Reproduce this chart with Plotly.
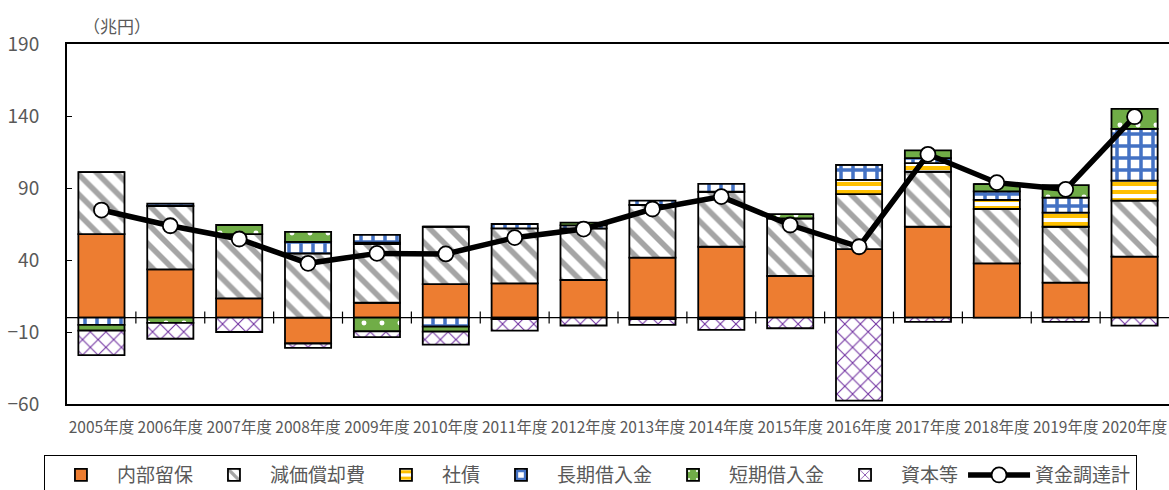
import plotly.graph_objects as go

# 年度ラベル
years = [f"{y}年度" for y in range(2005, 2021)]

# 資金調達の内訳（兆円）
naibu_ryuho = [58, 33.5, 13.4, -18, 10.3, 23.3, 23.8, 26.1, 41.6, 49.2, 28.9, 47.6, 63.1, 37.7, 24.3, 42.3]
genka_shokyaku = [43, 44, 44.6, 44.6, 40.8, 39.8, 38.2, 35.9, 36.6, 38.2, 40, 38.2, 38.2, 37.7, 38.8, 38.9]
shasai = [0, 0, 0, 0, 1, 0, -1, 0, 0, 0, 0, 9.8, 6, 6.3, 9.8, 13.9]
choki_kariire = [-5, 1.7, 0, 8, 5.3, -6.3, 3, 2, 3, 5.4, 0, 10.4, 3.5, 6, 10.4, 35.9]
tanki_kariire = [-4, -3.7, 6.3, 7, -9.5, -3.5, 0, 2, -1, -1, 3, 0, 5.3, 5, 8.7, 13.9]
shihon_to = [-17, -11, -10, -3, -4, -9, -8, -5.5, -4, -7.5, -7.4, -57.7, -3, 0, -3, -5.6]

# 資金調達計
shikin_total = [74.7, 63.8, 54.6, 37.7, 44.6, 44.2, 55.5, 61.5, 75.4, 84, 64.3, 49.2, 113.4, 93.7, 89.1, 139.5]

TEXT = "#595959"
FONT = "Noto Sans CJK JP"
OUTLINE = dict(color="black", width=1.8)

series = [
    ("内部留保", naibu_ryuho, dict(color="#ED7D31", line=OUTLINE)),
    ("減価償却費", genka_shokyaku, dict(color="white", line=OUTLINE,
        pattern=dict(shape="\\", fgcolor="#A5A5A5", bgcolor="white", size=14, solidity=0.4, fillmode="replace"))),
    ("社債", shasai, dict(color="white", line=OUTLINE,
        pattern=dict(shape="-", fgcolor="#FFC000", bgcolor="white", size=8, solidity=0.5, fillmode="replace"))),
    ("長期借入金", choki_kariire, dict(color="white", line=OUTLINE,
        pattern=dict(shape="+", fgcolor="#4472C4", bgcolor="white", size=12, solidity=0.5, fillmode="replace"))),
    ("短期借入金", tanki_kariire, dict(color="#70AD47", line=OUTLINE,
        pattern=dict(shape=".", fgcolor="white", bgcolor="#70AD47", size=18, solidity=0.06, fillmode="replace"))),
    ("資本等", shihon_to, dict(color="white", line=OUTLINE,
        pattern=dict(shape="x", fgcolor="#7030A0", bgcolor="white", size=11, solidity=0.18, fillmode="replace"))),
]

fig = go.Figure()
for name, vals, marker in series:
    fig.add_trace(go.Bar(x=years, y=vals, name=name, marker=marker))

fig.add_trace(go.Scatter(
    x=years, y=shikin_total, name="資金調達計", mode="lines+markers",
    line=dict(color="black", width=5.5),
    marker=dict(size=15, color="white", line=dict(color="black", width=1.8)),
))

# ゼロ線と区切り目盛り
fig.add_hline(y=0, line=dict(color="black", width=1.2), layer="below")
for i in range(len(years) - 1):
    fig.add_shape(type="line", xref="x", yref="y", x0=i + 0.5, x1=i + 0.5,
                  ysizemode="pixel", yanchor=0, y0=-6, y1=6,
                  line=dict(color="black", width=1.2))

fig.add_annotation(text="（兆円）", xref="paper", yref="paper", x=0.0, y=1.0,
                   xanchor="left", yanchor="bottom", xshift=14, yshift=4, showarrow=False,
                   font=dict(size=17, color=TEXT, family=FONT))

fig.update_layout(
    width=1169, height=490,
    margin=dict(l=67, r=0, t=44, b=86, autoexpand=False),
    paper_bgcolor="white", plot_bgcolor="white",
    barmode="relative", bargap=0.33,
    font=dict(family=FONT, color=TEXT),
    legend=dict(orientation="h", x=0.475, xanchor="center", y=-0.142, yanchor="top",
                bordercolor="black", borderwidth=1, font=dict(size=19, color=TEXT, family=FONT),
                traceorder="normal", itemwidth=62),
    xaxis=dict(range=[-0.5, len(years) - 0.5], showline=True, linecolor="black", linewidth=2,
               mirror=True, ticks="", showgrid=False, zeroline=False,
               tickfont=dict(size=15.5, color=TEXT, family=FONT), ticklabelstandoff=8),
    yaxis=dict(range=[-60, 190], dtick=50, tick0=-60, showline=True, linecolor="black", linewidth=2,
               ticks="inside", ticklen=5, tickcolor="black", showgrid=False, zeroline=False,
               tickfont=dict(size=19, color=TEXT, family=FONT), ticklabelstandoff=22),
)

fig.write_html("out.html")
